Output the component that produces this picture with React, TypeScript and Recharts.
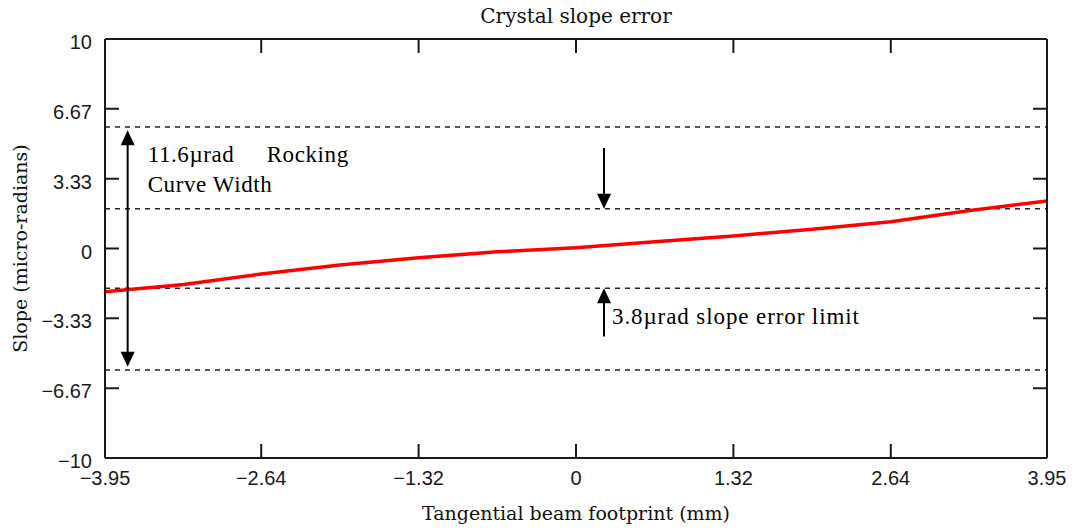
import { LineChart, Line, XAxis, YAxis, ReferenceLine, Label } from "recharts";

const footprint = [-3.95, -3.29, -2.64, -1.98, -1.32, -0.66, 0, 0.66, 1.32, 1.98, 2.64, 3.29, 3.95];
const slope = [-2.06, -1.72, -1.22, -0.79, -0.44, -0.16, 0.04, 0.32, 0.6, 0.92, 1.28, 1.8, 2.27];

const xTicks = [-3.95, -2.64, -1.32, 0, 1.32, 2.64, 3.95];
const yTicks = [-10, -6.67, -3.33, 0, 3.33, 6.67, 10];

// dashed guides: rocking curve width (±5.8) and slope error limit (±1.9)
const limits = [5.8, 1.9, -1.9, -5.8];

const rockingArrow = { x: -3.76, from: -5.65, to: 5.65 };
const errorArrowX = 0.235;
const downArrow = { from: 4.8, to: 1.9 };
const upArrow = { from: -4.2, to: -1.9 };

const data = footprint.map((x, i) => ({ x, slope: slope[i] }));

const INK = "#1a1a1a";
const TICK_FONT = "'Liberation Sans', Arial, sans-serif";
const TITLE_FONT = "'DejaVu Serif', serif";
const NOTE_FONT = "'Liberation Serif', 'Times New Roman', serif";

const fmt = (v: number) => (v < 0 ? "\u2212" + Math.abs(v) : String(v));

function head(x: number, y: number, dir: 1 | -1) {
  // dir 1 = pointing down, -1 = pointing up; (x, y) is the tip
  return <polygon points={`${x},${y} ${x - 7},${y - dir * 15} ${x + 7},${y - dir * 15}`} fill="#000" />;
}

function LeftTick({ x, y, payload }: any) {
  return (
    <g>
      <line x1={x} x2={x + 14} y1={y} y2={y} stroke={INK} strokeWidth={2} />
      <text x={x - 13} y={y + 3} textAnchor="end" dominantBaseline="central" fontFamily={TICK_FONT} fontSize={20} fill={INK}>
        {fmt(payload.value)}
      </text>
    </g>
  );
}

function RightTick({ x, y }: any) {
  return <line x1={x} x2={x - 14} y1={y} y2={y} stroke={INK} strokeWidth={2} />;
}

function BottomTick({ x, y, payload }: any) {
  return (
    <g>
      <line x1={x} x2={x} y1={y} y2={y - 14} stroke={INK} strokeWidth={2} />
      <text x={x} y={y + 20} textAnchor="middle" dominantBaseline="central" fontFamily={TICK_FONT} fontSize={20} fill={INK}>
        {fmt(payload.value)}
      </text>
    </g>
  );
}

function TopTick({ x, y }: any) {
  return <line x1={x} x2={x} y1={y} y2={y + 14} stroke={INK} strokeWidth={2} />;
}

function RockingShape({ x1, y1, y2 }: any) {
  const top = Math.min(y1, y2);
  const bottom = Math.max(y1, y2);
  return (
    <g>
      <line x1={x1} x2={x1} y1={top + 12} y2={bottom - 12} stroke="#000" strokeWidth={2} />
      {head(x1, top, -1)}
      {head(x1, bottom, 1)}
      <g fontFamily={NOTE_FONT} fontSize={23} fill="#000" letterSpacing={0.6}>
        <text x={x1 + 20} y={top + 32}>11.6µrad</text>
        <text x={x1 + 139} y={top + 32}>Rocking</text>
        <text x={x1 + 20} y={top + 62}>Curve Width</text>
      </g>
    </g>
  );
}

function DownShape({ x1, y1, y2 }: any) {
  const top = Math.min(y1, y2);
  const bottom = Math.max(y1, y2);
  return (
    <g>
      <line x1={x1} x2={x1} y1={top} y2={bottom - 12} stroke="#000" strokeWidth={2} />
      {head(x1, bottom, 1)}
    </g>
  );
}

function UpShape({ x1, y1, y2 }: any) {
  const top = Math.min(y1, y2);
  const bottom = Math.max(y1, y2);
  return (
    <g>
      <line x1={x1} x2={x1} y1={top + 12} y2={bottom} stroke="#000" strokeWidth={2} />
      {head(x1, top, -1)}
      <text x={x1 + 8} y={bottom - 12} fontFamily={NOTE_FONT} fontSize={23} fill="#000" letterSpacing={0.9}>
        3.8µrad slope error limit
      </text>
    </g>
  );
}

export default function App() {
  return (
    <div style={{ position: "absolute", left: 0, top: 0, background: "#fff" }}>
      <LineChart width={1076} height={531} data={data} margin={{ top: 0, right: 0, bottom: 0, left: 0 }}>
        <XAxis
          xAxisId="b"
          dataKey="x"
          type="number"
          domain={[-3.95, 3.95]}
          ticks={xTicks}
          interval={0}
          height={73}
          tickSize={0}
          tickMargin={0}
          tick={<BottomTick />}
          axisLine={{ stroke: INK, strokeWidth: 2 }}
          allowDataOverflow
        >
          <Label
            content={({ viewBox }: any) => (
              <text x={viewBox.x + viewBox.width / 2} y={viewBox.y + 62} textAnchor="middle" fontFamily={TITLE_FONT} fontSize={19} fill="#111">
                Tangential beam footprint (mm)
              </text>
            )}
          />
        </XAxis>
        <XAxis
          xAxisId="t"
          orientation="top"
          dataKey="x"
          type="number"
          domain={[-3.95, 3.95]}
          ticks={xTicks}
          interval={0}
          height={39}
          tickSize={0}
          tickMargin={0}
          tick={<TopTick />}
          axisLine={{ stroke: INK, strokeWidth: 2 }}
          allowDataOverflow
        >
          <Label
            content={({ viewBox }: any) => (
              <text x={viewBox.x + viewBox.width / 2} y={23} textAnchor="middle" fontFamily={TITLE_FONT} fontSize={20} fill="#111">
                Crystal slope error
              </text>
            )}
          />
        </XAxis>
        <YAxis
          yAxisId="l"
          type="number"
          domain={[-10, 10]}
          ticks={yTicks}
          interval={0}
          width={105}
          tickSize={0}
          tickMargin={0}
          tick={<LeftTick />}
          axisLine={{ stroke: INK, strokeWidth: 2 }}
          allowDataOverflow
        >
          <Label
            content={({ viewBox }: any) => {
              const cx = viewBox.x + 20;
              const cy = viewBox.y + viewBox.height / 2;
              return (
                <text x={cx} y={cy} transform={`rotate(-90, ${cx}, ${cy})`} textAnchor="middle" dominantBaseline="central" fontFamily={TITLE_FONT} fontSize={19} fill="#111">
                  Slope (micro-radians)
                </text>
              );
            }}
          />
        </YAxis>
        <YAxis
          yAxisId="r"
          orientation="right"
          type="number"
          domain={[-10, 10]}
          ticks={yTicks}
          interval={0}
          width={29}
          tickSize={0}
          tickMargin={0}
          tick={<RightTick />}
          axisLine={{ stroke: INK, strokeWidth: 2 }}
          allowDataOverflow
        />

        {limits.map((v) => (
          <ReferenceLine key={v} xAxisId="b" yAxisId="l" y={v} stroke="#222" strokeWidth={1.6} strokeDasharray="5 5" />
        ))}

        <Line
          xAxisId="t"
          yAxisId="r"
          dataKey="slope"
          stroke="none"
          dot={false}
          activeDot={false}
          isAnimationActive={false}
        />
        <Line
          xAxisId="b"
          yAxisId="l"
          type="linear"
          dataKey="slope"
          stroke="#ff0000"
          strokeWidth={3.5}
          dot={false}
          activeDot={false}
          isAnimationActive={false}
        />

        <ReferenceLine
          xAxisId="b"
          yAxisId="l"
          segment={[
            { x: rockingArrow.x, y: rockingArrow.from },
            { x: rockingArrow.x, y: rockingArrow.to },
          ]}
          shape={<RockingShape />}
        />
        <ReferenceLine
          xAxisId="b"
          yAxisId="l"
          segment={[
            { x: errorArrowX, y: downArrow.from },
            { x: errorArrowX, y: downArrow.to },
          ]}
          shape={<DownShape />}
        />
        <ReferenceLine
          xAxisId="b"
          yAxisId="l"
          segment={[
            { x: errorArrowX, y: upArrow.from },
            { x: errorArrowX, y: upArrow.to },
          ]}
          shape={<UpShape />}
        />
      </LineChart>
    </div>
  );
}
